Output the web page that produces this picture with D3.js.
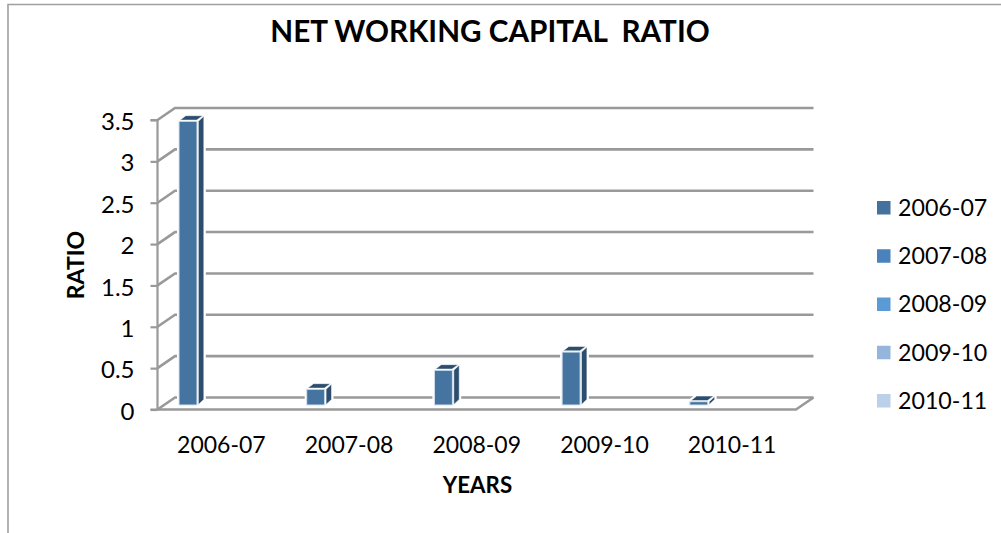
<!DOCTYPE html>
<html><head><meta charset="utf-8">
<script src="https://cdn.jsdelivr.net/npm/d3@7"></script>
<style>
html,body{margin:0;padding:0;background:#fff;overflow:hidden}
svg{display:block}
text{font-family:Lato,"Open Sans",sans-serif;fill:#000;white-space:pre}
</style></head><body><div id="c"></div>
<script>
const categories = ["2006-07","2007-08","2008-09","2009-10","2010-11"];
const values = [3.43, 0.19, 0.42, 0.64, 0.04];
const yTicks = [0, 0.5, 1, 1.5, 2, 2.5, 3, 3.5];
const legendColors = ["#44719e","#4a82bb","#5b9bd5","#95b5dc","#bcd0ea"];
const titleText = "NET WORKING CAPITAL  RATIO";
const xTitle = "YEARS", yTitle = "RATIO";

const W = 1001, H = 533;
const svg = d3.select("#c").append("svg").attr("width", W).attr("height", H);

// frame
svg.append("path").attr("d", `M8 533V4.5H1001`).attr("fill","none").attr("stroke","#a0a0a0").attr("stroke-width",1.6);

const x = d3.scaleBand().domain(categories).range([157.5, 796]);
const y = d3.scaleLinear().domain([0, 3.5]).range([409.5, 120]);
const depth = {x: 17.5, y: 12};
const gridColor = "#999999";

const grid = svg.append("g").attr("fill","none").attr("stroke",gridColor).attr("stroke-width",2.6);
yTicks.forEach(t => {
  grid.append("path").attr("d", d3.line()([
    [x.range()[0], y(t)],
    [x.range()[0] + depth.x, y(t) - depth.y],
    [x.range()[1] + depth.x, y(t) - depth.y]
  ]));
});
// floor front edge and right diagonal
grid.append("path").attr("d", d3.line()([
  [x.range()[0], y(0)], [x.range()[1], y(0)], [x.range()[1] + depth.x, y(0) - depth.y]
]));

// y axis
const yAxis = d3.axisLeft(y).tickValues(yTicks).tickFormat(d3.format("~g")).tickSize(7).tickPadding(16);
const gy = svg.append("g").attr("transform", `translate(${x.range()[0]},0)`).call(yAxis);
gy.selectAll("path,line").attr("stroke",gridColor).attr("stroke-width",2.2);
gy.select(".domain").attr("d", `M-7 ${y(3.5)}H0V${y(0)}H-7`).attr("fill","none");
gy.selectAll("text").style("font-size","24px").style("font-family","Lato").attr("dy","0.40em");

// x axis
const xAxis = d3.axisBottom(x).tickSize(0).tickPadding(35);
const gx = svg.append("g").attr("transform", `translate(0,${y(0)})`).call(xAxis);
gx.select(".domain").remove();
gx.selectAll("text").style("font-size","23px").style("font-family","Lato").attr("dy","0.36em");

// bars
const barW = 18, barOff = 21.5, floorLift = 4.5, sideX = 6.8, sideY = 5.6;
const bars = svg.append("g").selectAll("g").data(categories).join("g");
bars.each(function(c, i){
  const g = d3.select(this);
  const x0 = x(c) + barOff, x1 = x0 + barW;
  const yb = y(0) - floorLift;
  const yt = yb - (y(0) - y(values[i]));
  const line = d3.line();
  // white halo breaking the gridlines
  g.append("path").attr("d", line([[x0,yb],[x0,yt],[x0+sideX,yt-sideY],[x1+sideX,yt-sideY],[x1+sideX,yb-sideY],[x1,yb]])+"Z")
    .attr("fill","#fff").attr("stroke","#fff").attr("stroke-width",4);
  g.append("path").attr("d", line([[x1+1.4,yb-0.5],[x1+1.4,yt],[x1+sideX,yt-sideY+0.5],[x1+sideX,yb-sideY]])+"Z")
    .attr("fill","#2c4d6e").attr("stroke","#fff").attr("stroke-width",0.5);
  g.append("path").attr("d", line([[x0+1.2,yt-1.2],[x0+sideX,yt-sideY],[x1+sideX-1,yt-sideY],[x1-0.3,yt-1.2]])+"Z")
    .attr("fill","#2c4d6e").attr("stroke","#fff").attr("stroke-width",0.5);
  g.append("rect").attr("x",x0).attr("y",yt).attr("width",barW).attr("height",yb-yt)
    .attr("fill","#44749f").attr("stroke","#d5e2ee").attr("stroke-width",1);
});

// titles
svg.append("text").attr("x",490).attr("y",42).attr("text-anchor","middle")
  .style("font-size","29.7px").style("font-weight",700).text(titleText);
svg.append("text").attr("x",477.5).attr("y",493).attr("text-anchor","middle")
  .style("font-size","22.3px").style("font-weight",700).text(xTitle);
svg.append("text").attr("transform","translate(84,265) rotate(-90)").attr("text-anchor","middle")
  .style("font-size","23px").style("font-weight",700).text(yTitle);

// legend
const leg = d3.scalePoint().domain(categories).range([207.5, 400.5]);
const lg = svg.append("g").selectAll("g").data(categories).join("g")
  .attr("transform", d => `translate(877,${leg(d)})`);
lg.append("rect").attr("y",-6.5).attr("width",13.5).attr("height",13.5)
  .attr("fill",(d,i)=>legendColors[i]);
lg.append("text").attr("x",21).attr("dy","0.36em").style("font-size","23.2px").text(d=>d);
</script></body></html>
